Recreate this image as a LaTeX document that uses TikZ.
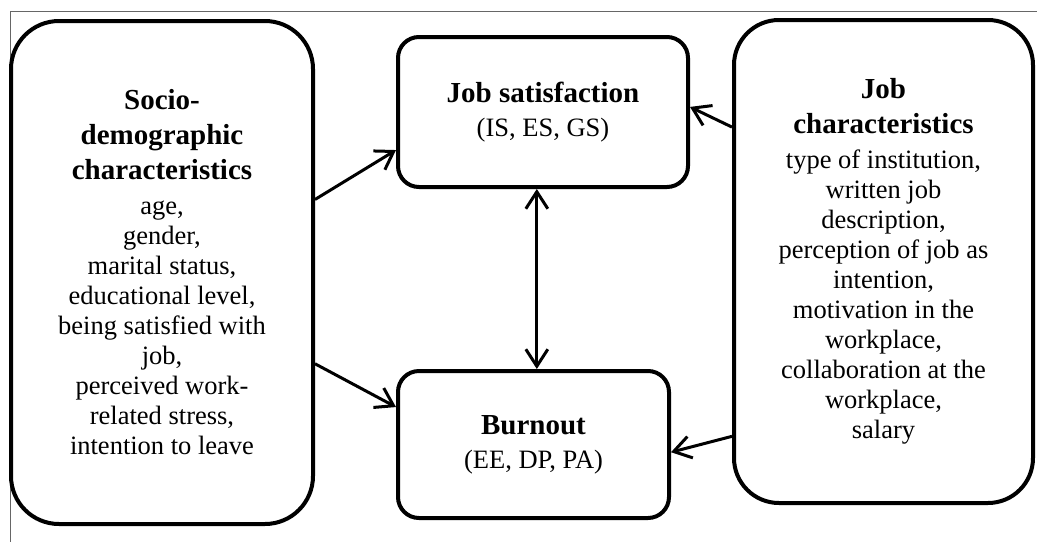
\documentclass[tikz,border=0pt]{standalone}
\usepackage{fontspec}
\setmainfont{Liberation Serif}
\usetikzlibrary{arrows.meta,calc}
\newcommand{\ttl}[1]{{\fontsize{29}{30}\selectfont\bfseries #1}}
\begin{document}
\begin{tikzpicture}[x=1pt,y=-1pt,
  box/.style={draw, line width=4pt, fill=white, align=center, inner sep=0pt,
    font=\fontsize{26.5}{30}\selectfont},
  conn/.style={line width=3pt, -{Straight Barb[length=17pt,width=22pt,line width=3pt]}},
  frame/.style={line width=1pt, black!60}]
\useasboundingbox (0,0) rectangle (1037,542);
\draw[frame] (1037,11) -- (10,11) -- (10,542);
\node[box, rounded corners=48pt, minimum width=302pt, minimum height=503pt] (sd) at (162,272.5)
  {\ttl{Socio-}\\[5pt]\ttl{demographic}\\[5pt]\ttl{characteristics}\\[5pt]age,\\gender,\\marital status,\\educational level,\\being satisfied with\\job,\\perceived work-\\related stress,\\intention to leave};
\node[box, rounded corners=45pt, minimum width=299pt, minimum height=483pt] (jc) at (883.5,261.5)
  {\ttl{Job}\\[5pt]\ttl{characteristics}\\[5pt]type of institution,\\written job\\description,\\perception of job as\\intention,\\motivation in the\\workplace,\\collaboration at the\\workplace,\\salary};
\node[box, rounded corners=21pt, minimum width=290pt, minimum height=150pt] (js) at (543,112)
  {\ttl{Job satisfaction}\\[4pt](IS, ES, GS)};
\node[box, rounded corners=21pt, minimum width=271pt, minimum height=147pt] (bo) at (533.5,444.5)
  {\ttl{Burnout}\\[4pt](EE, DP, PA)};
\coordinate (v1) at ($(js.south west)!0.479!(js.south east)$);
\coordinate (v2) at (v1 |- bo.north);
\draw[conn] ($(sd.north east)!0.356!(sd.south east)$) -- ($(js.north west)!0.747!(js.south west)$);
\draw[conn] ($(sd.north east)!0.68!(sd.south east)$) -- ($(bo.north west)!0.252!(bo.south west)$);
\draw[conn] ($(jc.north west)!0.224!(jc.south west)$) -- ($(js.north east)!0.467!(js.south east)$);
\draw[conn] ($(jc.north west)!0.859!(jc.south west)$) -- ($(bo.north east)!0.551!(bo.south east)$);
\draw[conn, {Straight Barb[length=17pt,width=22pt,line width=3pt]}-{Straight Barb[length=17pt,width=22pt,line width=3pt]}] (v1) -- (v2);
\end{tikzpicture}
\end{document}
